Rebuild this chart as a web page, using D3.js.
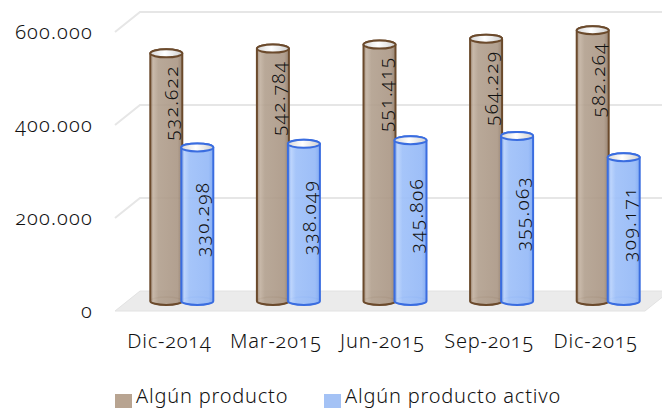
<!DOCTYPE html>
<html>
<head>
<meta charset="utf-8">
<script src="https://cdn.jsdelivr.net/npm/d3@7"></script>
<style>
  body { margin: 0; background: #fff; }
  svg text { font-family: "Noto Sans", "DejaVu Sans", sans-serif; font-variant-numeric: oldstyle-nums; font-weight: 350; fill: #111; }
</style>
</head>
<body>
<div id="chart"></div>
<script>
// values
const categories = ["Dic-2014", "Mar-2015", "Jun-2015", "Sep-2015", "Dic-2015"];
const algunProducto = [532622, 542784, 551415, 564229, 582264];
const algunProductoActivo = [330298, 338049, 345806, 355063, 309171];
const seriesNames = ["Algún producto", "Algún producto activo"];
const yTicks = [0, 200000, 400000, 600000];

const width = 662, height = 410;
const depthX = 25, depthY = 20;   // wall offset for the 3d look
const r = 16, ry = 4;             // cylinder radius / ellipse height

const fmt = d3.formatLocale({ decimal: ",", thousands: ".", grouping: [3], currency: ["", ""] }).format(",");

const svg = d3.select("#chart")
  .append("svg")
    .attr("width", width)
    .attr("height", height);

const x = d3.scaleBand()
  .domain(categories)
  .range([113, 646]);

const y = d3.scaleLinear()
  .domain([0, 600000])
  .range([311, 32]);

// gradients
const defs = svg.append("defs");
const grad = (id, stops) => {
  const g = defs.append("linearGradient").attr("id", id)
    .attr("x1", "0%").attr("x2", "100%").attr("y1", "0%").attr("y2", "0%");
  stops.forEach(s => g.append("stop").attr("offset", s[0]).attr("stop-color", s[1]));
};
grad("brownBody", [["0%", "#9c8673"], ["10%", "#c2b1a0"], ["25%", "#b19f8d"], ["85%", "#aa9684"], ["100%", "#8f7965"]]);
grad("blueBody", [["0%", "#78a3f2"], ["10%", "#b7d1fc"], ["25%", "#9ec0f9"], ["85%", "#95b9f7"], ["100%", "#7ca6f1"]]);
grad("capFill", [["0%", "#d8d8d8"], ["45%", "#ffffff"], ["100%", "#d0d0d0"]]);

// floor
const x0 = 115, x1 = 645;
svg.append("path")
  .attr("d", `M${x0},${y(0)} L${x0 + depthX},${y(0) - depthY} L${x1 + depthX},${y(0) - depthY} L${x1},${y(0)} Z`)
  .attr("fill", "#ebebeb")
  .attr("stroke", "#e2e2e2");

// wall gridlines
svg.selectAll("path.grid")
  .data(yTicks.filter(d => d > 0))
  .join("path")
  .attr("class", "grid")
  .attr("d", d => `M${x0},${y(d)} L${x0 + depthX},${y(d) - depthY} L${width},${y(d) - depthY}`)
  .attr("fill", "none")
  .attr("stroke", "#e6e6e6")
  .attr("stroke-width", 2);

// y axis labels
svg.selectAll("text.ytick")
  .data(yTicks)
  .join("text")
  .attr("class", "ytick")
  .attr("x", 93)
  .attr("y", d => y(d) + 7)
  .attr("text-anchor", "end")
  .attr("font-size", 20)
  .attr("letter-spacing", 1.2)
  .text(d => fmt(d));

// bars as cylinders
const series = [
  { name: seriesNames[0], values: algunProducto, off: 0, body: "url(#brownBody)", stroke: "#6b4a2c", op: 0.9 },
  { name: seriesNames[1], values: algunProductoActivo, off: 31, body: "url(#blueBody)", stroke: "#3a6de0", op: 0.92 }
];

const base = y(0) - 10;
const shift = 10;

series.forEach((s, si) => {
  const g = svg.append("g");
  const bars = categories.map((c, i) => ({
    cx: x(c) + x.bandwidth() / 2 + s.off,
    top: y(s.values[i]) - shift,
    v: s.values[i]
  }));

  // back of base ellipse, seen through
  g.selectAll("ellipse.back")
    .data(bars)
    .join("ellipse")
    .attr("cx", d => d.cx).attr("cy", base)
    .attr("rx", r).attr("ry", ry)
    .attr("fill", "none")
    .attr("stroke", s.stroke).attr("stroke-opacity", 0.4).attr("stroke-width", 1.5);

  g.selectAll("path.body")
    .data(bars)
    .join("path")
    .attr("d", d => `M${d.cx - r},${d.top} L${d.cx - r},${base} A${r},${ry} 0 0 0 ${d.cx + r},${base} L${d.cx + r},${d.top} A${r},${ry} 0 0 0 ${d.cx - r},${d.top} Z`)
    .attr("fill", s.body)
    .attr("fill-opacity", s.op)
    .attr("stroke", s.stroke)
    .attr("stroke-width", 2);

  g.selectAll("ellipse.cap")
    .data(bars)
    .join("ellipse")
    .attr("cx", d => d.cx).attr("cy", d => d.top)
    .attr("rx", r).attr("ry", ry)
    .attr("fill", "url(#capFill)")
    .attr("stroke", s.stroke).attr("stroke-width", 2);

  // value labels, rotated
  g.selectAll("text.val")
    .data(bars)
    .join("text")
    .attr("transform", d => {
      const ty = si === 0 ? d.top + 12 : (d.top + base) / 2 - 5;
      return `translate(${d.cx + 12},${ty}) rotate(-90)`;
    })
    .attr("text-anchor", si === 0 ? "end" : "middle")
    .attr("font-size", 19)
    .attr("letter-spacing", 1.3)
    .text(d => fmt(d.v));
});

// category labels
svg.selectAll("text.cat")
  .data(categories)
  .join("text")
  .attr("class", "cat")
  .attr("x", d => x(d) + x.bandwidth() / 2 + 3)
  .attr("y", 348)
  .attr("text-anchor", "middle")
  .attr("font-size", 20)
  .attr("letter-spacing", 0.8)
  .text(d => d);

// legend
const legend = [
  { name: seriesNames[0], color: "#b8a491", x: 115 },
  { name: seriesNames[1], color: "#a4c2f5", x: 324 }
];
const lg = svg.selectAll("g.legend")
  .data(legend)
  .join("g")
  .attr("class", "legend")
  .attr("transform", d => `translate(${d.x},394)`);
lg.append("rect")
  .attr("width", 17).attr("height", 14)
  .attr("fill", d => d.color);
lg.append("text")
  .attr("x", 21).attr("y", 9)
  .attr("font-size", 20)
  .attr("letter-spacing", 0.8)
  .text(d => d.name);
</script>
</body>
</html>
